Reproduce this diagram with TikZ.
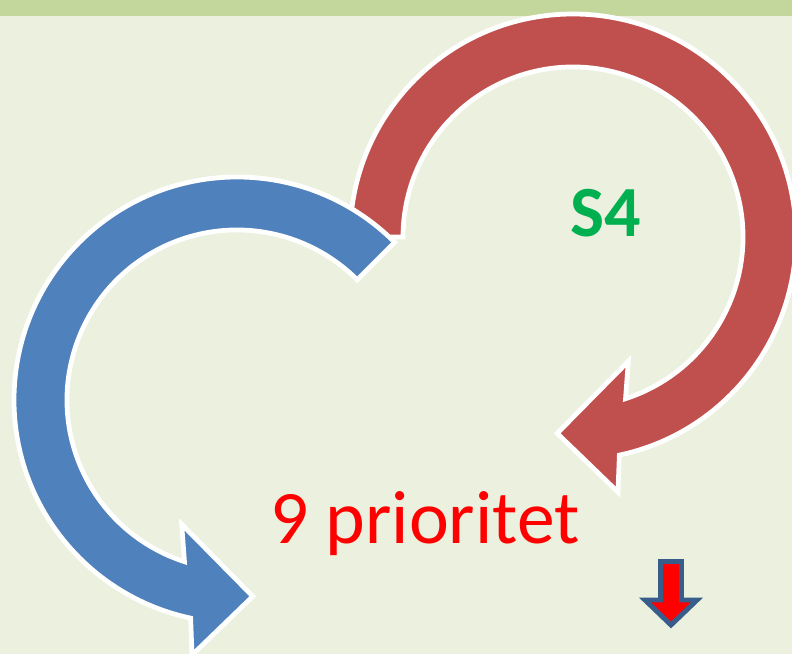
\documentclass[tikz,border=0pt]{standalone}
\usepackage{fontspec}
\setmainfont{Carlito}
\usepackage{xcolor}
\usepackage{tikz}

\definecolor{bgpale}{HTML}{EBF1DE}
\definecolor{bandgreen}{HTML}{C3D69B}
\definecolor{arrowred}{HTML}{C0504D}
\definecolor{arrowblue}{HTML}{4F81BD}
\definecolor{labelgreen}{HTML}{00B050}
\definecolor{navyedge}{HTML}{385D8A}

\begin{document}
\begin{tikzpicture}[x=0.02cm,y=0.02cm,
		ring/.style={draw=white,line width=2.7pt,line join=miter},
		label/.style={anchor=base,inner sep=0pt}]
		\useasboundingbox (0,0) rectangle (792,654);
		\fill[bgpale] (0,0) rectangle (792,654);
		\fill[bandgreen] (0,638) rectangle (792,654);

		\begin{scope}[shift={(573,417)}]
			\draw[ring,fill=arrowred] (180:223) arc[start angle=180,end angle=-78,radius=223]
				-- (-80:259) -- (-94.6:197) -- (-66:136) -- (-72:170)
				arc[start angle=-72,end angle=180,radius=170] -- cycle;
		\end{scope}

		\begin{scope}[shift={(237,254)}]
			\draw[ring,fill=arrowblue] (45:223) arc[start angle=45,end angle=258,radius=223]
				-- (260:259) -- (274.6:197) -- (246:136) -- (252:170)
				arc[start angle=252,end angle=45,radius=170] -- cycle;
		\end{scope}

		\node[label,text=labelgreen,font=\fontsize{41}{41}\selectfont\bfseries] (sfour) at (606,418) {S4};
		\node[label,text=red,font=\fontsize{43}{43}\selectfont] (prio) at (425,111) {9 prioritet};

		\draw[draw=navyedge,fill=red,line width=2.8pt,line join=miter]
			(660.5,92.5) -- (681.5,92.5) -- (681.5,54) -- (697,54) -- (671,29)
			-- (645,54) -- (660.5,54) -- cycle;
\end{tikzpicture}
\end{document}
